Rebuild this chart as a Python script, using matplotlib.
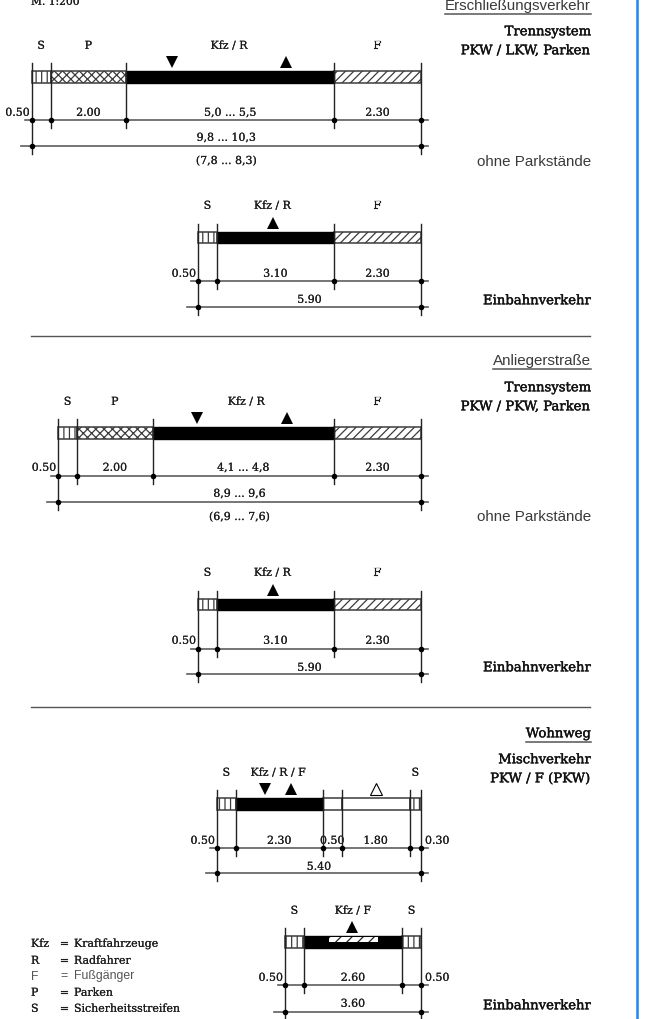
import matplotlib
matplotlib.use("Agg")
import matplotlib.pyplot as plt
import matplotlib.patheffects as pe
from matplotlib.patches import Rectangle

PX_PER_M = 37.8
W, H = 650, 1019
SERIF = ["DejaVu Serif"]
SANS = ["Liberation Sans"]
INK = "#1c1c1c"
RULE = "#5e5e5e"

plt.rcParams["hatch.linewidth"] = 0.9

# segment widths in metres and their surface type
sec1_widths = [0.5, 2.0, 5.5, 2.3]
sec1_types = ["S", "P", "K", "F"]
sec1_heads = ["S", "P", "Kfz / R", "F"]
sec1_dims = ["0.50", "2.00", "5,0 ... 5,5", "2.30"]
sec2_widths = [0.5, 3.1, 2.3]
sec2_types = ["S", "K", "F"]
sec2_heads = ["S", "Kfz / R", "F"]
sec2_dims = ["0.50", "3.10", "2.30"]
sec3_widths = [0.5, 2.0, 4.8, 2.3]
sec3_types = ["S", "P", "K", "F"]
sec3_heads = ["S", "P", "Kfz / R", "F"]
sec3_dims = ["0.50", "2.00", "4,1 ... 4,8", "2.30"]
sec4_widths = [0.5, 3.1, 2.3]
sec4_types = ["S", "K", "F"]
sec4_heads = ["S", "Kfz / R", "F"]
sec4_dims = ["0.50", "3.10", "2.30"]
sec5_widths = [0.5, 2.3, 0.5, 1.8, 0.3]
sec5_types = ["S", "K", "W", "W", "S"]
sec5_heads = ["S", "Kfz / R / F", "", "", "S"]
sec5_dims = ["0.50", "2.30", "0.50", "1.80", "0.30"]
sec6_widths = [0.5, 2.6, 0.5]
sec6_types = ["S", "M", "S"]
sec6_heads = ["S", "Kfz / F", "S"]
sec6_dims = ["0.50", "2.60", "0.50"]

RIGHT_EDGE_M = 421 / PX_PER_M

sections = [
    dict(w=sec1_widths, t=sec1_types, h=sec1_heads, d=sec1_dims, total="9,8 ... 10,3", sub="(7,8 ... 8,3)", hx=-1,
         y=(71, 83, 45, 120, 146, 112, 137, 160), tri=[(3.70, "v"), (6.72, "^")]),
    dict(w=sec2_widths, t=sec2_types, h=sec2_heads, d=sec2_dims, total="5.90", sub=None, hx=-3,
         y=(232, 243, 205, 281, 307, 273, 299, 0), tri=[(1.98, "^")]),
    dict(w=sec3_widths, t=sec3_types, h=sec3_heads, d=sec3_dims, total="8,9 ... 9,6", sub="(6,9 ... 7,6)", hx=3,
         y=(427, 439, 401, 476, 502, 467, 493, 516), tri=[(3.68, "v"), (6.06, "^")]),
    dict(w=sec4_widths, t=sec4_types, h=sec4_heads, d=sec4_dims, total="5.90", sub=None, hx=-3,
         y=(599, 610, 572, 649, 674, 640, 667, 0), tri=[(1.98, "^")]),
    dict(w=sec5_widths, t=sec5_types, h=sec5_heads, d=sec5_dims, total="5.40", sub=None, hx=-1,
         y=(798, 810, 772, 848, 873, 840, 866, 0), tri=[(1.27, "v"), (1.96, "^"), (4.2, "o")]),
    dict(w=sec6_widths, t=sec6_types, h=sec6_heads, d=sec6_dims, total="3.60", sub=None, hx=0,
         y=(936, 948, 910, 985, 1012, 977, 1003, 0), tri=[(1.77, "^")]),
]

right_texts = [
    ("Erschließungsverkehr", 5, "sans", True), ("Trennsystem", 31, "serif", False),
    ("PKW / LKW, Parken", 50, "serif", False), ("ohne Parkstände", 161, "sans", False),
    ("Einbahnverkehr", 300, "serif", False), ("Anliegerstraße", 360, "sans", True),
    ("Trennsystem", 387, "serif", False), ("PKW / PKW, Parken", 406, "serif", False),
    ("ohne Parkstände", 516, "sans", False), ("Einbahnverkehr", 667, "serif", False),
    ("Wohnweg", 733, "serif", True), ("Mischverkehr", 759, "serif", False),
    ("PKW / F (PKW)", 778, "serif", False), ("Einbahnverkehr", 1005, "serif", False),
]
legend_keys = ["Kfz", "R", "F", "P", "S"]
legend_names = ["Kraftfahrzeuge", "Radfahrer", "Fußgänger", "Parken", "Sicherheitsstreifen"]

fig = plt.figure(figsize=(W / 100, H / 100), dpi=100)
ax = fig.add_axes([0, 0, 1, 1])
ax.set_xlim(0, W / PX_PER_M)
ax.set_ylim(H, 0)
ax.axis("off")
px = 1 / PX_PER_M


def serif(x, y, s, size=7.9, ha="center", color=INK, heavy=0.12):
    t = ax.text(x, y + 0.8, s, fontsize=size, ha=ha, va="center", family=SERIF, color=color)
    t.set_path_effects([pe.withStroke(linewidth=heavy, foreground=color)])
    return t


def draw_section(s):
    top, bot, yh, yd1, yd2, yt1, yt2, yt3 = s["y"]
    left = RIGHT_EDGE_M - sum(s["w"])
    edges = [left]
    for wd in s["w"]:
        edges.append(edges[-1] + wd)
    h = bot - top
    for i, (a, wd, t) in enumerate(zip(edges, s["w"], s["t"])):
        if t == "K" or t == "M":
            ax.add_patch(Rectangle((a, top), wd, h, fc="black", ec="black", lw=1.0, zorder=3))
            if t == "M":
                ax.add_patch(Rectangle((a + 0.66, top + 1), 1.3, 4.5, fc="white", ec="#222222", lw=0,
                                       hatch="///", zorder=4))
        else:
            hatch = {"S": "|||", "P": "xxxx", "F": "////", "W": None}[t]
            ax.add_patch(Rectangle((a, top), wd, h, fc="white", ec="#3c3c3c", lw=1.1, hatch=hatch, zorder=2))
        if s["h"][i]:
            off = s["hx"] * px if t in ("K", "M") else 0
            serif(a + wd / 2 + off, yh, s["h"][i])
    # horizontal dimension lines
    ax.plot([left - 7 * px, edges[-1] + 7 * px], [yd1, yd1], color=RULE, lw=1.2, zorder=1)
    ax.plot([left - 11 * px, edges[-1] + 7 * px], [yd2, yd2], color=RULE, lw=1.2, zorder=1)
    # extension lines and dots
    for k, x in enumerate(edges):
        outer = k in (0, len(edges) - 1)
        ax.plot([x, x], [top - 8, (yd2 + 8) if outer else (yd1 + 8)], color="#222222", lw=1.0, zorder=5)
        ax.plot([x], [yd1], "o", ms=4.0, color="black", mew=0, zorder=6)
        if outer:
            ax.plot([x], [yd2], "o", ms=4.0, color="black", mew=0, zorder=6)
    # dimension labels
    for i, (a, wd, lab) in enumerate(zip(edges, s["w"], s["d"])):
        if i == 0:
            serif(a - 2 * px, yt1, lab, ha="right")
        elif i == len(s["w"]) - 1 and wd <= 0.5:
            serif(edges[-1] + 4 * px, yt1, lab, ha="left")
        else:
            serif(a + wd / 2, yt1, lab)
    serif((edges[0] + edges[-1]) / 2, yt2, s["total"])
    if s["sub"]:
        serif((edges[0] + edges[-1]) / 2, yt3, s["sub"])
    # direction triangles
    for off, kind in s["tri"]:
        if kind == "o":
            ax.plot([left + off], [top - 9], "^", ms=8, mfc="white", mec="black", mew=0.8, zorder=6)
        else:
            ax.plot([left + off], [top - 9], kind, ms=8.5, color="black", mew=0, zorder=6)


for sec in sections:
    draw_section(sec)

RIGHT = 591 * px
for s, y, fam, under in right_texts:
    if fam == "sans":
        t = ax.text(RIGHT, y + 1, s, fontsize=10.9, ha="right", va="center", family=SANS, color="#3a3a3a")
    else:
        t = serif(RIGHT, y, s, size=9.5, ha="right", color="#111111", heavy=0.3)
    if under:
        bb = t.get_window_extent(fig.canvas.get_renderer())
        ax.plot([bb.x0 * px, RIGHT], [y + 8.5, y + 8.5], color="#555555", lw=1.1)

for y in (336, 707):
    ax.plot([31 * px, 590 * px], [y, y], color="#555555", lw=1.0)

serif(31 * px, 1, "M. 1:200", ha="left", size=7.7)

for i, (k, n) in enumerate(zip(legend_keys, legend_names)):
    y = [943, 960, 976, 992, 1008][i]
    if k == "F":
        for x, s in ((31, k), (60, "="), (74, n)):
            ax.text(x * px, y + 0.5, s, fontsize=8.8, ha="left", va="center", family=SANS, color="#555555")
    else:
        serif(31 * px, y, k, ha="left")
        serif(60 * px, y, "=", ha="left")
        serif(74 * px, y, n, ha="left")

ax.plot([636.5 * px, 636.5 * px], [0, H], color="#1e88f0", lw=1.8)

fig.savefig("out.png", dpi=100)
